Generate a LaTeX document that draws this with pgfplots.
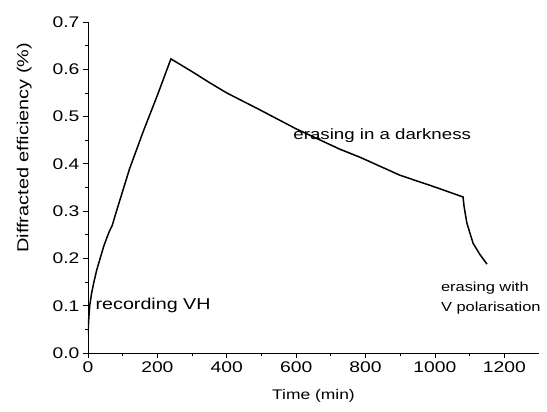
\documentclass[border=0pt]{standalone}
\usepackage{fontspec}
\setmainfont[FakeStretch=1.25]{Liberation Sans}
\usepackage{pgfplots}
\pgfplotsset{compat=1.18}
\newcommand{\fs}[1]{\fontsize{#1}{#1}\selectfont}
\begin{document}
\begin{tikzpicture}[font=\fs{15}]
\path[use as bounding box] (-88bp,-59bp) rectangle (459bp,353bp);
\begin{axis}[
    scale only axis,
    width=451bp, height=331bp,
    xmin=0, xmax=1300, ymin=0, ymax=0.7,
    axis lines=left,
    axis line style={-, line width=1pt},
    tick align=outside,
    major tick length=5bp, minor tick length=3bp,
    tick style={line width=0.8pt, black},
    xtick={0,200,...,1200},
    ytick={0,0.1,...,0.7},
    minor x tick num=1,
    minor y tick num=1,
    xticklabel style={/pgf/number format/1000 sep={}},
    yticklabel style={/pgf/number format/.cd, fixed, fixed zerofill, precision=1},
    /pgf/number format/assume math mode=true,
    tick label style={font=\fs{15.5}},
    xlabel style={font=\fs{14}, at={(ticklabel cs:0.5)}, yshift=-10bp},
    ylabel style={font=\fs{16}, at={(ticklabel cs:0.62,14bp)}},
    xlabel={Time (min)},
    ylabel={Diffracted efficiency (\%)},
]
\addplot[black, line width=1.5bp] coordinates {
(0,0.04) (2,0.07) (5,0.1) (10,0.125) (17,0.15) (25,0.175) (35,0.2) (45,0.225)
(55,0.245) (62,0.258) (70,0.27) (80,0.295) (120,0.39) (160,0.47) (200,0.545)
(239,0.622) (300,0.595) (352,0.571) (400,0.55) (496,0.514) (600,0.474)
(726,0.431) (784,0.414) (899,0.376) (1000,0.351) (1081,0.330) (1084,0.31)
(1092,0.275) (1110,0.232) (1130,0.208) (1150,0.188)
};
\node[anchor=west, font=\fs{15.8}] at (axis cs:12,0.1) {recording VH};
\node[anchor=west, font=\fs{15}] at (axis cs:582,0.46) {erasing in a darkness};
\node[anchor=west, align=left, inner sep=0pt, font=\fs{13.2}] at (axis cs:1017,0.116) {erasing with\\[6bp]V polarisation};
\end{axis}
\end{tikzpicture}
\end{document}
